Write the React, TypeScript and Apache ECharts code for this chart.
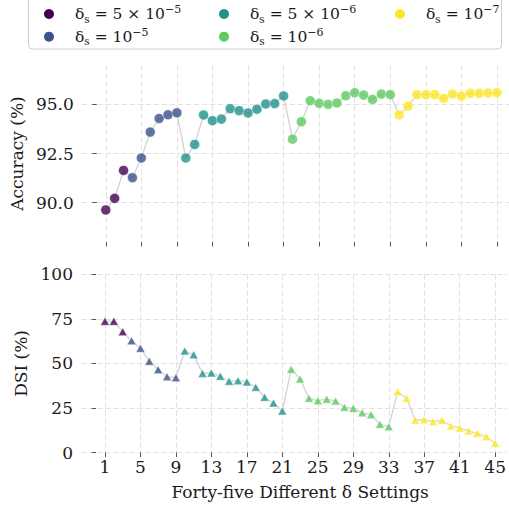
import React, { useEffect, useRef } from "react";
import * as echarts from "echarts";

const groupLabels = ["5e-5", "1e-5", "5e-6", "1e-6", "1e-7"];
const groupRich = [
  "{m|δ}{s|s}{m| = 5 × 10}{p|−5}",
  "{m|δ}{s|s}{m| = 10}{p|−5}",
  "{m|δ}{s|s}{m| = 5 × 10}{p|−6}",
  "{m|δ}{s|s}{m| = 10}{p|−6}",
  "{m|δ}{s|s}{m| = 10}{p|−7}",
];
const groupSizes = [3, 6, 12, 12, 12];
const groupColors = ["#440154", "#3b528b", "#21918c", "#5ec962", "#fde725"];

const accuracy = [
  89.63, 90.22, 91.64, 91.27, 92.27, 93.59, 94.28, 94.47, 94.57, 92.27,
  92.96, 94.46, 94.17, 94.25, 94.78, 94.68, 94.56, 94.75, 95.02, 95.04,
  95.43, 93.23, 94.12, 95.18, 95.05, 95.0, 95.07, 95.44, 95.59, 95.47,
  95.25, 95.52, 95.49, 94.46, 94.91, 95.49, 95.49, 95.49, 95.3, 95.52,
  95.42, 95.56, 95.56, 95.57, 95.59,
];
const dsi = [
  73.6, 73.6, 67.8, 62.7, 58.5, 51.2, 46.5, 42.5, 42.0, 57.0,
  54.9, 44.4, 44.6, 42.8, 40.0, 40.3, 39.6, 36.6, 31.0, 27.8,
  23.3, 46.7, 41.2, 30.4, 29.1, 29.9, 28.9, 25.4, 24.8, 22.3,
  21.2, 15.8, 14.5, 34.1, 30.4, 18.1, 18.4, 17.3, 18.1, 14.9,
  13.7, 12.1, 10.8, 8.9, 5.2,
];
const xTicks = [1, 5, 9, 13, 17, 21, 25, 29, 33, 37, 41, 45];
const accTicks = [90, 92.5, 95];
const FONT = "DejaVu Serif";

export default function App() {
  const ref = useRef<HTMLDivElement>(null);
  useEffect(() => {
    if (!ref.current) return;
    const chart = echarts.init(ref.current, undefined, { renderer: "svg" });

    const accPts = accuracy.map((v, i) => [i + 1, v]);
    const dsiPts = dsi.map((v, i) => [i + 1, v]);

    const series: any[] = [
      {
        type: "line", xAxisIndex: 0, yAxisIndex: 0, data: accPts, symbol: "none",
        lineStyle: { color: "#d2d2d2", width: 1.3 }, z: 1, silent: true,
      },
      {
        type: "line", xAxisIndex: 1, yAxisIndex: 1, data: dsiPts, symbol: "none",
        lineStyle: { color: "#d2d2d2", width: 1.3 }, z: 1, silent: true,
      },
    ];
    let start = 0;
    groupSizes.forEach((n, g) => {
      const top = accPts.slice(start, start + n);
      const bot = dsiPts.slice(start, start + n);
      start += n;
      series.push({
        type: "scatter", name: groupLabels[g], xAxisIndex: 0, yAxisIndex: 0, data: top,
        symbol: "circle", symbolSize: 10, z: 3,
        itemStyle: { color: groupColors[g], opacity: 0.8, borderColor: "#fff", borderWidth: 0.6 },
      });
      series.push({
        type: "scatter", name: groupLabels[g], xAxisIndex: 1, yAxisIndex: 1, data: bot,
        symbol: "triangle", symbolSize: [9, 8], z: 3,
        itemStyle: { color: groupColors[g], opacity: 0.8, borderColor: "#fff", borderWidth: 0.6 },
      });
    });

    const rich = {
      m: { fontFamily: FONT, fontSize: 15.5, color: "#1a1a1a", lineHeight: 20 },
      s: { fontFamily: FONT, fontSize: 10.5, color: "#1a1a1a", lineHeight: 14, verticalAlign: "bottom" },
      p: { fontFamily: FONT, fontSize: 11, color: "#1a1a1a", lineHeight: 12, verticalAlign: "top" },
    };
    const mkLegend = (names: string[], left: number) => ({
      data: names, orient: "vertical", left, top: 4, padding: 0, itemGap: 2.7,
      icon: "circle", itemWidth: 10, itemHeight: 10,
      itemStyle: { opacity: 1, borderWidth: 0 },
      formatter: (name: string) => groupRich[groupLabels.indexOf(name)],
      textStyle: { rich, padding: [0, 0, 0, 16], lineHeight: 20 },
    });

    const gridLine = { show: true, lineStyle: { color: "#e2e2e2", type: [5.5, 2.5], width: 1 } };
    const tick = (vals: number[]) => ({
      show: true, customValues: vals, length: 4.5, lineStyle: { color: "#555", width: 1 },
    });

    chart.setOption({
      animation: false,
      textStyle: { fontFamily: FONT },
      graphic: [
        {
          type: "rect", shape: { x: 28.5, y: -4, width: 473, height: 53, r: 4 },
          style: { fill: "none", stroke: "#cccccc", lineWidth: 1 }, z: 0,
        },
      ],
      legend: [
        mkLegend([groupLabels[0], groupLabels[1]], 44),
        mkLegend([groupLabels[2], groupLabels[3]], 219),
        mkLegend([groupLabels[4]], 395),
      ],
      grid: [
        { left: 81, right: 0, top: 65, height: 177 },
        { left: 81, right: 0, top: 274.3, height: 178.2 },
      ],
      xAxis: [
        {
          type: "value", gridIndex: 0, min: -1.7, max: 46.35,
          axisLine: { show: false }, axisTick: tick(xTicks),
          axisLabel: { show: false, customValues: xTicks }, splitLine: gridLine,
        },
        {
          type: "value", gridIndex: 1, min: -1.7, max: 46.35,
          axisLine: { show: false }, axisTick: tick(xTicks),
          axisLabel: { show: true, customValues: xTicks, fontSize: 17, color: "#1a1a1a", margin: 6, fontFamily: FONT },
          splitLine: gridLine,
          name: "Forty-five Different δ Settings", nameLocation: "middle", nameGap: 31,
          nameTextStyle: { fontSize: 17, color: "#1a1a1a", fontFamily: FONT, padding: [0, 0, 0, 12] },
        },
      ],
      yAxis: [
        {
          type: "value", gridIndex: 0, min: 88, max: 97,
          axisLine: { show: false }, axisTick: tick(accTicks),
          axisLabel: {
            customValues: accTicks, fontSize: 17, color: "#1a1a1a", margin: 8, fontFamily: FONT,
            formatter: (v: number) => v.toFixed(1),
          },
          splitLine: gridLine,
          name: "Accuracy (%)", nameLocation: "middle", nameGap: 52,
          nameTextStyle: { fontSize: 17, color: "#1a1a1a", fontFamily: FONT },
        },
        {
          type: "value", gridIndex: 1, min: 0, max: 100, interval: 25,
          axisLine: { show: false },
          axisTick: { show: true, length: 4.5, lineStyle: { color: "#555", width: 1 } },
          axisLabel: { fontSize: 17, color: "#1a1a1a", margin: 8, fontFamily: FONT },
          splitLine: gridLine,
          name: "DSI (%)", nameLocation: "middle", nameGap: 48,
          nameTextStyle: { fontSize: 17, color: "#1a1a1a", fontFamily: FONT },
        },
      ],
      series,
    });
    return () => chart.dispose();
  }, []);
  return <div ref={ref} style={{ position: "absolute", left: 0, top: 0, width: 509, height: 506 }} />;
}
